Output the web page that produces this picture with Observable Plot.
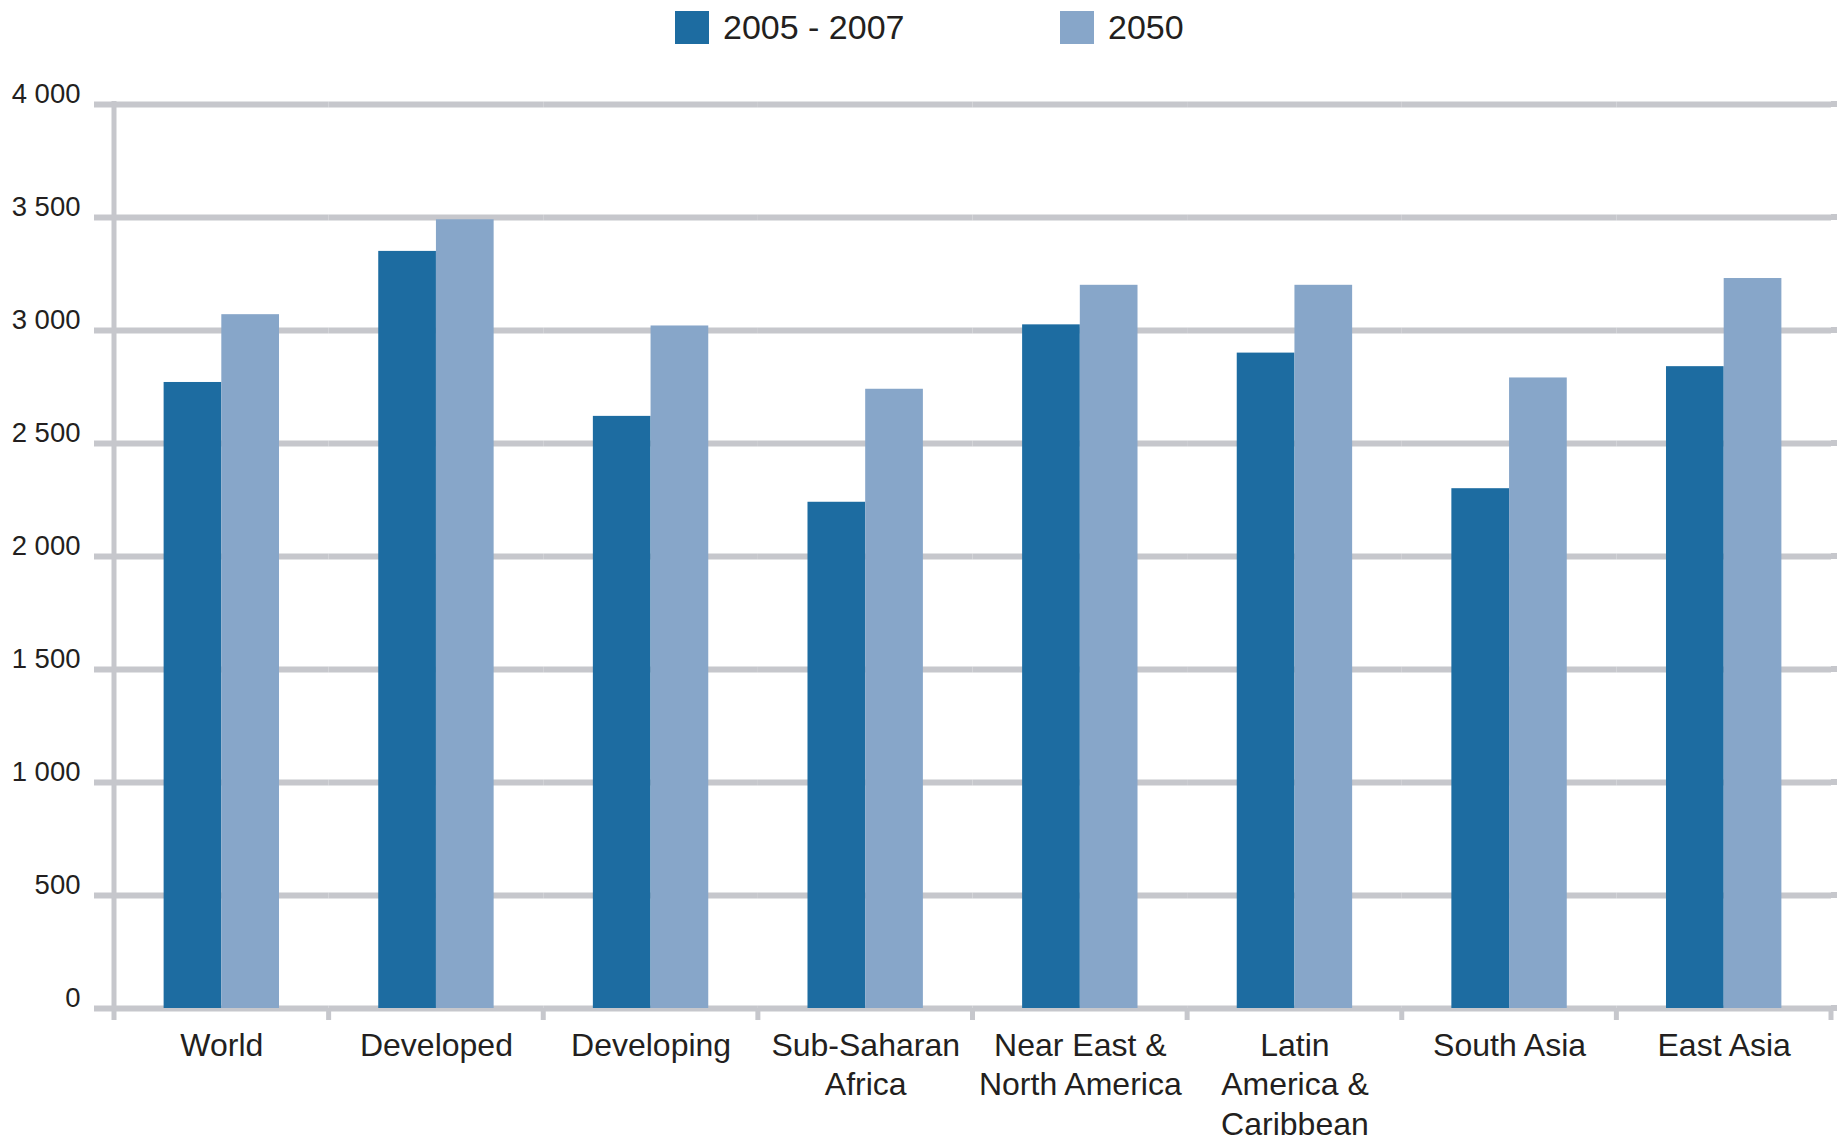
<!DOCTYPE html>
<html><head><meta charset="utf-8">
<script src="https://cdn.jsdelivr.net/npm/d3@7"></script>
<script src="https://cdn.jsdelivr.net/npm/@observablehq/plot@0.6"></script>
<style>
html,body{margin:0;padding:0;background:#fff;}
body{width:1847px;height:1141px;overflow:hidden;font-family:"Liberation Sans",Arial,sans-serif;color:#231f20;}
#legend{height:56px;position:relative;}
.item{position:absolute;top:11px;display:flex;align-items:center;font-size:34px;line-height:33px;}
.sw{width:34px;height:33px;margin-right:14px;}
</style></head><body>
<div id="legend"></div>
<div id="chart"></div>
<script>
const regions = ["World","Developed","Developing","Sub-Saharan Africa","Near East & North America","Latin America & Caribbean","South Asia","East Asia"];
const regionLabels = ["World","Developed","Developing","Sub-Saharan\nAfrica","Near East &\nNorth America","Latin\nAmerica &\nCaribbean","South Asia","East Asia"];
const series = ["2005 - 2007","2050"];
const values2005 = [2770,3350,2620,2240,3025,2900,2300,2840];
const values2050 = [3070,3490,3020,2740,3200,3200,2790,3230];
const yTicks = [0,500,1000,1500,2000,2500,3000,3500,4000];
const colors = ["#1d6ca1","#87a6c9"];
const gridColor = "#c6c7cc";
const textColor = "#231f20";

// legend
const legend = document.getElementById("legend");
const legendLeft = [675, 1060];
series.forEach((s,i)=>{
  const it = document.createElement("div");
  it.className = "item";
  it.style.left = legendLeft[i] + "px";
  const sw = document.createElement("div");
  sw.className = "sw"; sw.style.background = colors[i];
  const tx = document.createElement("span"); tx.textContent = s;
  it.appendChild(sw); it.appendChild(tx);
  legend.appendChild(it);
});

const data = regions.flatMap((r,i)=>[
  {region:r, series:series[0], value:values2005[i]},
  {region:r, series:series[1], value:values2050[i]}
]);
const fmt = d => d3.format(",")(d).replace(",", " ");
const plot = Plot.plot({
  width:1847, height:1085, marginTop:48, marginBottom:133, marginLeft:114, marginRight:16,
  style:{fontFamily:'"Liberation Sans", Arial, sans-serif', color:textColor, background:"transparent", overflow:"visible"},
  fx:{domain:regions, padding:0, round:false, label:null},
  x:{domain:series, paddingInner:0, paddingOuter:0.86, round:false, axis:null},
  y:{domain:[0,4000], label:null},
  color:{domain:series, range:colors},
  marks:[
    Plot.ruleY(yTicks, {stroke:gridColor, strokeWidth:6}),
    Plot.barY(data, {fx:"region", x:"series", y:"value", fill:"series"}),
    Plot.axisY(yTicks, {tickSize:20, stroke:gridColor, strokeWidth:6, strokeOpacity:1, fill:"none", label:null}),
    Plot.axisY(yTicks, {tickSize:0, tickPadding:34, dy:-10, fontSize:27.5, fill:textColor, tickFormat:fmt, label:null}),
    Plot.axisFx({anchor:"bottom", tickSize:0, tickPadding:19, fontSize:32, lineHeight:1.24, fill:textColor, tickFormat:d=>regionLabels[regions.indexOf(d)], label:null})
  ]
});
document.getElementById("chart").appendChild(plot);

// axis line and category boundary ticks from the library's scales
const fx = plot.scale("fx"), y = plot.scale("y");
const svg = d3.select(plot);
const bounds = regions.map(r=>fx.apply(r)).concat([fx.apply(regions[regions.length-1]) + fx.bandwidth]);
const g = svg.append("g").attr("stroke", gridColor).attr("stroke-width", 5);
g.append("line").attr("x1", bounds[0]).attr("x2", bounds[0]).attr("y1", y.apply(4000)-3).attr("y2", y.apply(0)+12);
bounds.slice(1).forEach(b=>{
  g.append("line").attr("x1", b).attr("x2", b).attr("y1", y.apply(0)).attr("y2", y.apply(0)+12);
});
yTicks.forEach(t=>{
  g.append("line").attr("stroke-width",6).attr("x1", bounds[bounds.length-1]).attr("x2", bounds[bounds.length-1]+6).attr("y1", y.apply(t)).attr("y2", y.apply(t));
});
</script>
</body></html>
